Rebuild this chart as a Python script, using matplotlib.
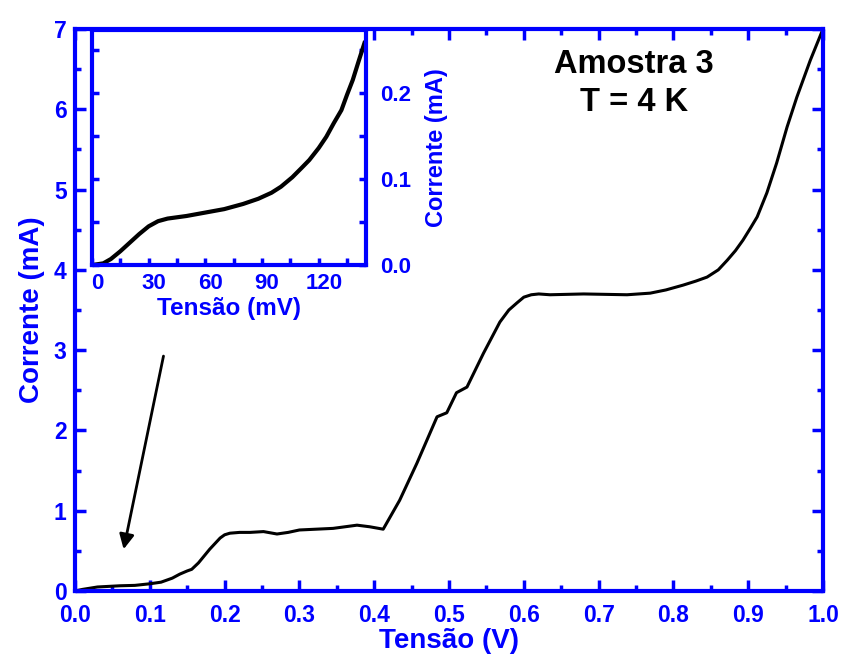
import numpy as np
import matplotlib.pyplot as plt
from matplotlib.ticker import MultipleLocator, FormatStrFormatter
import matplotlib.transforms as mtransforms

plt.rcParams['font.family'] = ['Liberation Sans', 'DejaVu Sans']
plt.rcParams['font.weight'] = 'bold'

azul = '#0000ff'

# curva principal (V, mA)
v_main = [0.0, 0.01, 0.03, 0.06, 0.08, 0.1, 0.115, 0.13, 0.14, 0.15, 0.156,
          0.165, 0.18, 0.194, 0.2, 0.207, 0.22, 0.234, 0.252, 0.27, 0.285,
          0.30, 0.345, 0.377, 0.394, 0.412, 0.434, 0.457, 0.484, 0.497, 0.51,
          0.524, 0.546, 0.568, 0.58, 0.591, 0.60, 0.61, 0.62, 0.635, 0.68,
          0.738, 0.769, 0.79, 0.813, 0.83, 0.845, 0.86, 0.872, 0.883, 0.893,
          0.903, 0.912, 0.925, 0.938, 0.952, 0.965, 0.983, 1.0]
i_main = [0.0, 0.02, 0.05, 0.065, 0.07, 0.09, 0.11, 0.16, 0.21, 0.25, 0.27,
          0.35, 0.52, 0.66, 0.70, 0.72, 0.73, 0.73, 0.74, 0.71, 0.73,
          0.76, 0.78, 0.82, 0.80, 0.77, 1.13, 1.59, 2.17, 2.22, 2.47,
          2.54, 2.96, 3.35, 3.50, 3.59, 3.66, 3.69, 3.70, 3.69, 3.70,
          3.69, 3.71, 3.75, 3.81, 3.86, 3.91, 4.00, 4.12, 4.24, 4.37,
          4.52, 4.66, 4.96, 5.33, 5.78, 6.15, 6.61, 7.0]

# curva do detalhe (mV, mA)
v_ins = [0.0, 6.0, 10.0, 15.0, 20.0, 25.0, 30.0, 35.0, 40.0, 50.0, 60.0,
         70.0, 80.0, 88.0, 95.0, 100.0, 106.0, 111.0, 115.0, 120.0, 124.0,
         128.0, 132.0, 135.0, 138.0, 141.0, 144.2]
i_ins = [0.0, 0.002, 0.007, 0.016, 0.026, 0.036, 0.045, 0.051, 0.054, 0.057,
         0.061, 0.065, 0.071, 0.077, 0.084, 0.091, 0.102, 0.113, 0.122, 0.136,
         0.149, 0.165, 0.180, 0.198, 0.215, 0.236, 0.258]

fig = plt.figure(figsize=(8.46, 6.61), dpi=100)
ax = fig.add_axes([0.0887, 0.1059, 0.8841, 0.8502])
ax.plot(v_main, i_main, color='k', lw=2.2)
ax.set_xlim(0, 1.0)
ax.set_ylim(0, 7)
ax.xaxis.set_major_locator(MultipleLocator(0.1))
ax.xaxis.set_minor_locator(MultipleLocator(0.05))
ax.xaxis.set_major_formatter(FormatStrFormatter('%.1f'))
ax.yaxis.set_major_locator(MultipleLocator(1))
ax.yaxis.set_minor_locator(MultipleLocator(0.5))
ax.tick_params(which='both', direction='in', top=True, right=True,
               color=azul, labelcolor=azul, width=2.5, labelsize=16.5)
ax.tick_params(which='major', length=8)
ax.tick_params(which='minor', length=4)
ax.tick_params(axis='x', pad=9)
ax.tick_params(axis='y', pad=6)
for s in ax.spines.values():
    s.set_color(azul)
    s.set_linewidth(3)
ax.set_xlabel('Tensão (V)', color=azul, fontsize=20, fontweight='bold', labelpad=1)
ax.set_ylabel('Corrente (mA)', color=azul, fontsize=20, fontweight='bold', labelpad=6)

ax.text(0.747, 6.32, 'Amostra 3\nT = 4 K', ha='center', va='center',
        fontsize=23.5, fontweight='bold', color='k', linespacing=1.3)

ax.annotate('', xy=(0.0642, 0.486), xytext=(0.119, 2.96),
            arrowprops=dict(arrowstyle='-|>', color='k', lw=2, mutation_scale=22))

# detalhe
axi = fig.add_axes([0.1087, 0.599, 0.3239, 0.3555])
axi.plot(v_ins, i_ins, color='k', lw=3)
axi.set_xlim(0, 145)
axi.set_ylim(0, 0.273)
axi.xaxis.set_major_locator(MultipleLocator(30))
axi.xaxis.set_minor_locator(MultipleLocator(15))
axi.yaxis.set_major_locator(MultipleLocator(0.1))
axi.yaxis.set_minor_locator(MultipleLocator(0.05))
axi.yaxis.set_major_formatter(FormatStrFormatter('%.1f'))
axi.yaxis.tick_right()
axi.yaxis.set_label_position('right')
axi.tick_params(which='both', direction='in', left=True, right=True,
                color=azul, labelcolor=azul, width=2.5, labelsize=16)
axi.tick_params(which='major', length=5)
axi.tick_params(which='minor', length=5)
axi.tick_params(axis='x', pad=6)
axi.tick_params(axis='y', pad=10)
for s in axi.spines.values():
    s.set_color(azul)
    s.set_linewidth(3)
axi.set_xlabel('Tensão (mV)', color=azul, fontsize=17.5, fontweight='bold', labelpad=2)
axi.set_ylabel('Corrente (mA)', color=azul, fontsize=17, fontweight='bold', labelpad=10)
desloc = mtransforms.ScaledTranslation(5 / 100, 0, fig.dpi_scale_trans)
for lb in axi.get_xticklabels():
    lb.set_transform(lb.get_transform() + desloc)

fig.savefig('out.png', dpi=100)
